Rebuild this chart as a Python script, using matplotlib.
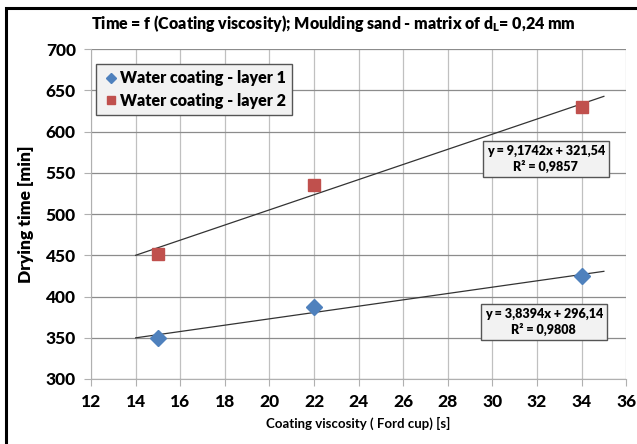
import matplotlib
matplotlib.use("Agg")
import matplotlib.pyplot as plt
from matplotlib.patches import Rectangle
from matplotlib.font_manager import FontProperties
import numpy as np

plt.rcParams['font.family'] = ['Lato', 'DejaVu Sans']
plt.rcParams['font.weight'] = 800  # everything in the original is Calibri Bold
plt.rcParams['axes.labelweight'] = 800

# data
viscosity = [15, 22, 34]
layer1 = [350, 387, 425]
layer2 = [451, 535, 630]
fit1 = (3.8394, 296.14)
fit2 = (9.1742, 321.54)
trend_x = [14, 35]
x_ticks = list(range(12, 37, 2))
y_ticks = list(range(300, 701, 50))

C_BLUE = "#4f81bd"
C_RED = "#c0504d"
TICK_FP = FontProperties(family="Lato", weight=900, size=12.5)

fig = plt.figure(figsize=(6.37, 4.44), dpi=100)
ax = fig.add_axes([0.143, 0.1464, 0.840, 0.7432])

# outer chart border (image is cropped on right/bottom)
fig.patches.append(Rectangle((6/637, -0.05), 1.2, 1 - 8/444 + 0.05, transform=fig.transFigure,
                             fill=False, ec="black", lw=2.2))

ax.tick_params(length=5, color="#b0b0b0", pad=6)
ax.set_xlim(12, 36); ax.set_ylim(300, 700)
ax.set_xticks(x_ticks)
ax.set_yticks(y_ticks)
ax.set_xticklabels([str(v) for v in x_ticks], fontproperties=TICK_FP)
ax.set_yticklabels([str(v) for v in y_ticks], fontproperties=TICK_FP)
ax.grid(axis="y", color="#8c8c8c", lw=0.9)
ax.grid(axis="x", color="#c0c0c0", lw=0.9)
ax.set_axisbelow(True)
for s in ax.spines.values():
    s.set_visible(False)
ax.spines["left"].set_visible(True); ax.spines["left"].set_color("#b0b0b0")
ax.spines["bottom"].set_visible(True); ax.spines["bottom"].set_color("#b0b0b0")

# trendlines
tx = np.array(trend_x)
ax.plot(tx, fit1[0]*tx + fit1[1], color="#333333", lw=0.9, zorder=3)
ax.plot(tx, fit2[0]*tx + fit2[1], color="#333333", lw=0.9, zorder=3)

ax.plot(viscosity, layer1, ls="none", marker="D", ms=8, color=C_BLUE, mec=C_BLUE,
        label="Water coating - layer 1", zorder=4)
ax.plot(viscosity, layer2, ls="none", marker="s", ms=8.5, color=C_RED, mec=C_RED,
        label="Water coating - layer 2", zorder=4)

leg = ax.legend(loc="upper left", bbox_to_anchor=(0.01, 0.955), fancybox=False, framealpha=1,
                prop=dict(weight=800, size=11.5), handletextpad=0.05, handlelength=1.0,
                markerscale=0.65, borderpad=0.4, labelspacing=0.4, borderaxespad=0)
leg.get_frame().set_facecolor("#f2f2f2"); leg.get_frame().set_edgecolor("#555555")
leg.get_frame().set_linewidth(1.0)

bbox = dict(boxstyle="square,pad=0.3", fc="#f2f2f2", ec="#555555", lw=1.0)
ax.text(32.4, 567, "y = 9,1742x + 321,54\nR² = 0,9857", ha="center", va="center",
        fontsize=9, linespacing=1.3, bbox=bbox, zorder=5)
ax.text(32.3, 369, "y = 3,8394x + 296,14\nR² = 0,9808", ha="center", va="center",
        fontsize=9, linespacing=1.3, bbox=bbox, zorder=5)

fig.text(0.523, 1 - 23/444, "Time = f (Coating viscosity); Moulding sand - matrix of d$_\\mathregular{L}$= 0,24 mm",
         ha="center", va="center", fontsize=11.5)
ax.set_ylabel("Drying time [min]", fontsize=12.5, labelpad=8)
ax.set_xlabel("Coating viscosity ( Ford cup) [s]", fontsize=9.5, fontweight=700, labelpad=5)

fig.savefig("out.png", dpi=100)
